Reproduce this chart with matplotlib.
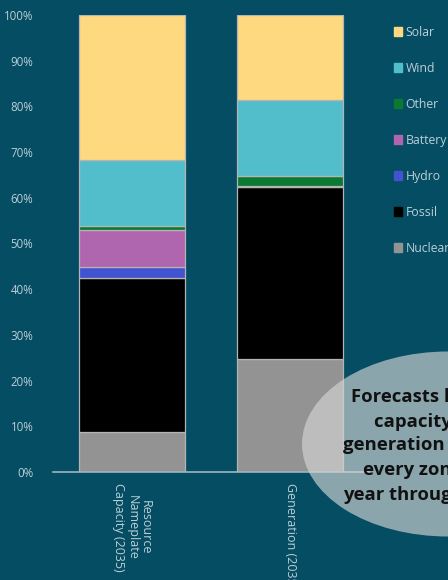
import matplotlib
matplotlib.use("Agg")
import matplotlib.pyplot as plt
from matplotlib.patches import Patch, Ellipse

# data (percent of total, stacked bottom -> top)
categories = ["Resource\nNameplate\nCapacity (2035)", "Generation (2035)"]
sources = ["Nuclear", "Fossil", "Hydro", "Battery", "Other", "Wind", "Solar"]
values = {
    "Nuclear": [8.8, 24.7],
    "Fossil":  [33.6, 37.6],
    "Hydro":   [2.4, 0.2],
    "Battery": [8.1, 0.1],
    "Other":   [0.9, 2.2],
    "Wind":    [14.5, 16.6],
    "Solar":   [31.7, 18.6],
}
colors = {
    "Nuclear": "#939393",
    "Fossil":  "#000000",
    "Hydro":   "#4253cf",
    "Battery": "#b066ae",
    "Other":   "#0a7a32",
    "Wind":    "#53becb",
    "Solar":   "#ffd97f",
}
yticks = [0, 10, 20, 30, 40, 50, 60, 70, 80, 90, 100]
callout = ["Forecasts hourly", "capacity and", "generation for",
           "every zone and", "year through 2045"]

bg = "#044d63"
txt = "#bccfd8"

fig = plt.figure(figsize=(4.48, 5.80), dpi=100, facecolor=bg)
ax = fig.add_axes([53/448, 108/580, 316/448, 457/580], facecolor=bg)

x = list(range(len(categories)))
bottom = [0.0] * len(categories)
for s in sources:
    ax.bar(x, values[s], 0.677, bottom=bottom, color=colors[s],
           edgecolor="#b4b4b4", linewidth=0.9, label=s, zorder=2)
    bottom = [b + v for b, v in zip(bottom, values[s])]

ax.set_xlim(-0.5, 1.5)
ax.set_ylim(0, 100)
ax.set_yticks(yticks)
ax.set_yticklabels([f"{t}%" for t in yticks], fontsize=8.3, color=txt, family="Open Sans")
ax.set_xticks(x)
ax.set_xticklabels(categories, rotation=270, ha="center", va="top",
                   multialignment="center", fontsize=9, color=txt, family="Open Sans",
                   linespacing=1.05)
ax.tick_params(length=0, pad=14)
ax.tick_params(axis="x", pad=8)
for sp in ["left", "right", "top"]:
    ax.spines[sp].set_visible(False)
ax.spines["bottom"].set_color("#9db5c0")
ax.spines["bottom"].set_linewidth(1.2)

handles = [Patch(facecolor=colors[s], edgecolor=colors[s], label=s) for s in sources[::-1]]
leg = fig.legend(handles=handles, loc="upper left", bbox_to_anchor=(389/448, 1 - 21/580),
                 frameon=False, fontsize=8.8, labelspacing=1.88, handlelength=0.7,
                 handleheight=0.7, handletextpad=0.25, borderaxespad=0)
for t in leg.get_texts():
    t.set_color(txt)
    t.set_family("Open Sans")

# callout bubble
ell = Ellipse((1.0, 1 - 444/580), 292/448, 185/580, transform=fig.transFigure,
              facecolor="#d5d5d5", alpha=0.65, edgecolor="none", zorder=5)
fig.patches.append(ell)
xs = [351, 374, 343, 363, 343]
ys = [397, 422, 445, 470, 495]
for line, xp, yp in zip(callout, xs, ys):
    fig.text(xp/448, 1 - yp/580, line, ha="left", va="center", fontsize=13.3,
             fontweight="bold", family="Open Sans", color="#111111", zorder=6)

fig.savefig("out.png", dpi=100, facecolor=bg)
